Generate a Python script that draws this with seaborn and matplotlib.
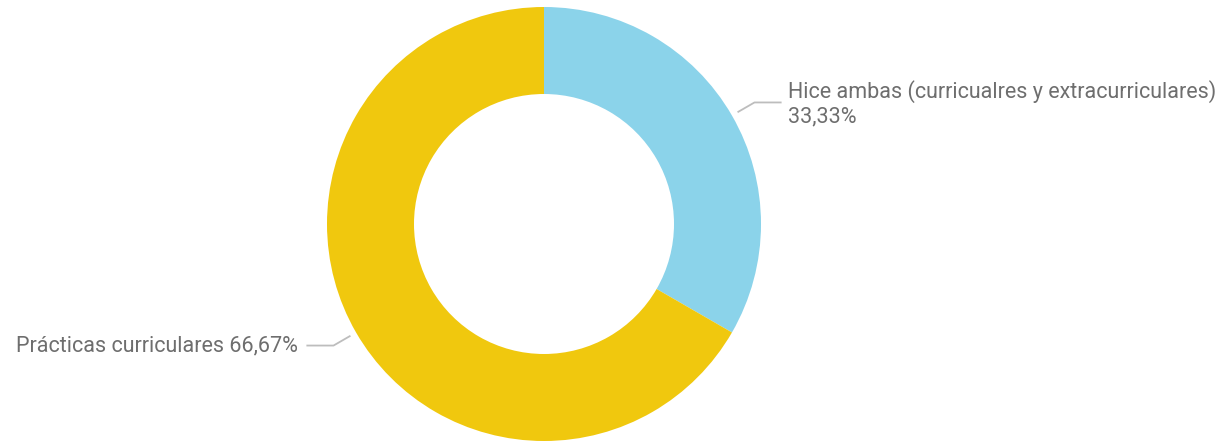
import numpy as np
import seaborn as sns
import matplotlib
import matplotlib.pyplot as plt

matplotlib.use("Agg")

# Data
CATEGORIES = ["Hice ambas (curricualres y extracurriculares)", "Prácticas curriculares"]
VALUES = [33.33, 66.67]
VALUE_LABELS = ["33,33%", "66,67%"]
COLORS = ["#8BD3EA", "#F0C80E"]

TEXT_COLOR = "#6E6E6E"
LINE_COLOR = "#BDBDBD"

sns.set_theme(style="white")
plt.rcParams["font.family"] = ["Roboto", "DejaVu Sans"]

W, H = 1228, 443
fig = plt.figure(figsize=(W / 100, H / 100), dpi=100)

# donut centre (from bottom-left) and radius in pixels
cx, cy, r = 544, 219, 217
ax = fig.add_axes([(cx - r) / W, (cy - r) / H, 2 * r / W, 2 * r / H])

wedges, _ = ax.pie(
    VALUES,
    colors=COLORS,
    startangle=90,
    counterclock=False,
    radius=1,
    wedgeprops=dict(width=1 - 130 / 217, edgecolor="none"),
)
ax.set_xlim(-1, 1)
ax.set_ylim(-1, 1)
ax.set_aspect("equal")
ax.axis("off")

FS = 15.5
for i, w in enumerate(wedges):
    ang = np.deg2rad((w.theta1 + w.theta2) / 2)
    dx, dy = np.cos(ang), np.sin(ang)
    side = 1 if dx > 0 else -1
    p0 = (1.03 * dx, 1.03 * dy)
    p1 = (1.12 * dx, 1.12 * dy)
    p2 = (p1[0] + side * 0.125, p1[1])
    ax.plot([p0[0], p1[0], p2[0]], [p0[1], p1[1], p2[1]],
            color=LINE_COLOR, lw=1.3, clip_on=False, solid_capstyle="butt")
    if side > 0:
        ax.text(p2[0] + 0.03, p2[1] + 0.05, CATEGORIES[i], ha="left", va="center",
                fontsize=FS, color=TEXT_COLOR, clip_on=False)
        ax.text(p2[0] + 0.03, p2[1] - 0.065, VALUE_LABELS[i], ha="left", va="center",
                fontsize=FS, color=TEXT_COLOR, clip_on=False)
    else:
        ax.text(p2[0] - 0.04, p2[1], f"{CATEGORIES[i]} {VALUE_LABELS[i]}", ha="right",
                va="center", fontsize=FS, color=TEXT_COLOR, clip_on=False)

fig.savefig("out.png", dpi=100, facecolor="white")
plt.close(fig)
